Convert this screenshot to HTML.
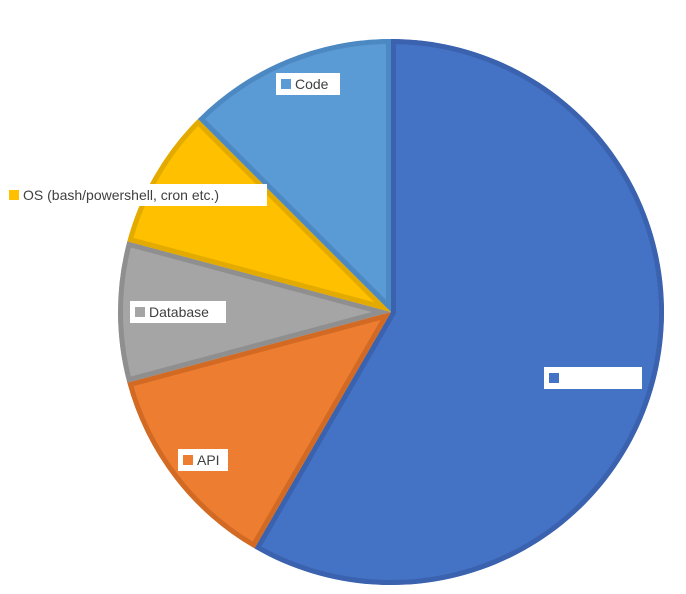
<!DOCTYPE html>
<html><head><meta charset="utf-8"><style>
body{margin:0;background:#fff;width:686px;height:594px;overflow:hidden}
svg{display:block}
text{font-family:"Liberation Sans",sans-serif;font-size:14px;fill:#404040}
</style></head><body>
<svg id="chart" width="686" height="594" viewBox="0 0 686 594"><defs id="defs"></defs></svg>
<script>
const categories=["","API","Database","OS (bash/powershell, cron etc.)","Code"];
const values=[7,1.5,1,1,1.5];
const fills=["#4472C4","#ED7D31","#A5A5A5","#FFC000","#5B9BD5"];
const strokes=["#3A62AE","#D26A24","#8F8F8F","#E3AA00","#4C89C2"];
const labelPos=[[544,367,98],[178,449,50],[130,301,96],[4,184,263],[276,73,64]];
const svg=document.getElementById('chart');
const defs=document.getElementById('defs');
const NS='http://www.w3.org/2000/svg';
const cx=391,cy=312,r=273;
const total=values.reduce((a,b)=>a+b,0);
let a0=0;
function pt(a,rr){return [cx+rr*Math.sin(a),cy-rr*Math.cos(a)];}
values.forEach((v,i)=>{
 const a1=a0+v/total*2*Math.PI;
 const p0=pt(a0,r),p1=pt(a1,r);
 const large=(a1-a0)>Math.PI?1:0;
 const d=`M${cx},${cy}L${p0[0]},${p0[1]}A${r},${r} 0 ${large} 1 ${p1[0]},${p1[1]}Z`;
 const cp=document.createElementNS(NS,'clipPath');
 cp.setAttribute('id','cp'+i);
 const cpp=document.createElementNS(NS,'path');
 cpp.setAttribute('d',d);
 cp.appendChild(cpp);defs.appendChild(cp);
 const p=document.createElementNS(NS,'path');
 p.setAttribute('d',d);
 p.setAttribute('fill',fills[i]);p.setAttribute('stroke',strokes[i]);p.setAttribute('stroke-width','10');p.setAttribute('stroke-linejoin','miter');
 p.setAttribute('clip-path','url(#cp'+i+')');
 
 
 svg.appendChild(p);
 a0=a1;
});
categories.forEach((c,i)=>{
 const [x,y,w]=labelPos[i];
 const g=document.createElementNS(NS,'g');
 
 
 const b=document.createElementNS(NS,'rect');
 b.setAttribute('x',x);b.setAttribute('y',y);b.setAttribute('width',w);b.setAttribute('height',22);b.setAttribute('fill','#fff');
 g.appendChild(b);
 const m=document.createElementNS(NS,'rect');
 m.setAttribute('x',x+5);m.setAttribute('y',y+6);m.setAttribute('width',10);m.setAttribute('height',10);m.setAttribute('fill',fills[i]);
 g.appendChild(m);
 const t=document.createElementNS(NS,'text');
 t.setAttribute('x',x+19);t.setAttribute('y',y+16);t.textContent=c;
 g.appendChild(t);
 svg.appendChild(g);
});
</script>
</body></html>
